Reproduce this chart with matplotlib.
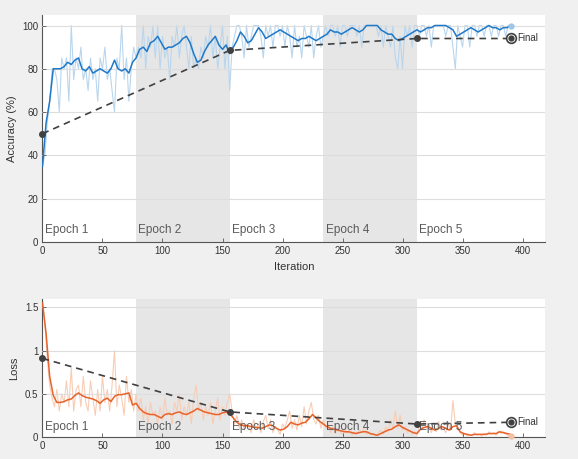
import numpy as np
import matplotlib
matplotlib.use("Agg")
import matplotlib.pyplot as plt

plt.rcParams['font.family'] = ['Liberation Sans', 'DejaVu Sans']

# iterations (raw every 2, smoothed every 3)
raw_it = np.arange(0, 391, 2)
smooth_it = np.arange(0, 391, 3)

acc_raw = [
    35, 40, 55, 65, 80, 80, 75, 60, 85, 80, 85, 65, 100, 75, 85, 80, 90, 75, 80, 70,
    85, 75, 80, 65, 85, 80, 90, 75, 80, 70, 60, 85, 80, 100, 75, 85, 65, 80, 90, 85,
    90, 85, 100, 80, 95, 90, 100, 85, 100, 80, 95, 85, 90, 75, 95, 90, 100, 85, 95, 100,
    90, 80, 95, 80, 85, 80, 90, 85, 95, 90, 100, 85, 95, 80, 90, 100, 80, 95, 70,
    90, 95, 100, 100, 95, 85, 100, 90, 95, 100, 100, 100, 95, 85, 100, 95, 100, 90, 100, 100,
    95, 100, 90, 100, 95, 85, 100, 90, 95, 85, 100, 95, 90, 100, 85, 95, 100, 90, 95,
    100, 95, 100, 100, 95, 100, 90, 100, 100, 95, 100, 100, 100, 95, 100, 90, 100, 100, 100, 100,
    100, 100, 95, 100, 90, 100, 95, 90, 100, 85, 80, 95, 80, 100, 95, 100, 90, 100, 100,
    95, 100, 100, 95, 100, 90, 100, 100, 100, 100, 100, 95, 100, 100, 90, 80, 100, 95, 90, 100,
    100, 90, 100, 100, 95, 100, 100, 95, 100, 100, 95, 100, 100, 95, 100, 100, 95, 100, 100,
]

acc_smooth = [
    35, 55, 65, 80, 80, 80, 81, 83, 82, 84,
    85, 80, 79, 81, 78, 79, 80, 79, 78, 80,
    84, 80, 79, 80, 78, 83, 85, 89, 90, 88,
    92, 93, 95, 92, 89, 90, 90, 91, 92, 94,
    95, 92, 87, 83, 84, 88, 91, 93, 95, 91,
    89, 91, 87, 90, 93, 97, 95, 92, 93, 96,
    99, 97, 94, 95, 96, 97, 98, 97, 96, 95,
    94, 93, 94, 94, 95, 94, 93, 94, 95, 96,
    98, 97, 97, 96, 97, 98, 99, 98, 97, 98,
    100, 100, 100, 100, 98, 97, 96, 96, 94, 93,
    94, 95, 96, 97, 98, 97, 98, 99, 99, 100,
    100, 100, 100, 99, 98, 95, 96, 97, 98, 99,
    98, 97, 98, 99, 100, 99, 99, 98, 99, 99,
    100,
]

loss_raw = [
    1.6, 1.3, 0.9, 0.6, 0.45, 0.35, 0.55, 0.3, 0.5, 0.4, 0.65, 0.35, 0.8, 0.3, 0.55, 0.6, 0.35, 0.7, 0.4, 0.3,
    0.65, 0.45, 0.25, 0.55, 0.3, 0.7, 0.4, 0.55, 0.3, 0.6, 1.0, 0.35, 0.6, 0.45, 0.25, 0.7, 0.4, 0.55, 0.3, 0.5,
    0.3, 0.45, 0.2, 0.35, 0.15, 0.4, 0.25, 0.3, 0.15, 0.35, 0.2, 0.45, 0.25, 0.3, 0.15, 0.4, 0.3, 0.5, 0.2, 0.35,
    0.25, 0.4, 0.15, 0.45, 0.6, 0.3, 0.4, 0.2, 0.35, 0.25, 0.4, 0.15, 0.3, 0.45, 0.2, 0.35, 0.25, 0.4, 0.5,
    0.3, 0.15, 0.25, 0.1, 0.2, 0.08, 0.15, 0.12, 0.05, 0.2, 0.1, 0.15, 0.05, 0.18, 0.25, 0.1, 0.2, 0.05, 0.12, 0.08,
    0.03, 0.15, 0.1, 0.2, 0.3, 0.1, 0.2, 0.08, 0.25, 0.12, 0.35, 0.15, 0.3, 0.4, 0.2, 0.15, 0.25, 0.1, 0.2,
    0.1, 0.15, 0.05, 0.12, 0.04, 0.1, 0.06, 0.03, 0.1, 0.04, 0.08, 0.02, 0.06, 0.03, 0.08, 0.05, 0.1, 0.03, 0.06, 0.02,
    0.04, 0.01, 0.05, 0.08, 0.03, 0.12, 0.06, 0.2, 0.1, 0.3, 0.1, 0.25, 0.08, 0.12, 0.05, 0.08, 0.03, 0.06, 0.02,
    0.15, 0.08, 0.2, 0.1, 0.15, 0.05, 0.12, 0.06, 0.18, 0.08, 0.1, 0.05, 0.15, 0.08, 0.42, 0.15, 0.1, 0.05, 0.02, 0.04,
    0.01, 0.03, 0.02, 0.05, 0.02, 0.03, 0.01, 0.04, 0.02, 0.06, 0.03, 0.05, 0.02, 0.07, 0.04, 0.06, 0.03, 0.02, 0.01,
]

loss_smooth = [
    1.55, 1.20, 0.70, 0.48, 0.40, 0.40, 0.41, 0.43, 0.44, 0.48,
    0.51, 0.48, 0.46, 0.45, 0.44, 0.42, 0.39, 0.43, 0.45, 0.41,
    0.47, 0.49, 0.49, 0.50, 0.51, 0.37, 0.39, 0.33, 0.29, 0.27,
    0.26, 0.26, 0.24, 0.22, 0.26, 0.27, 0.26, 0.28, 0.29, 0.27,
    0.26, 0.28, 0.30, 0.33, 0.31, 0.29, 0.28, 0.27, 0.26, 0.26,
    0.28, 0.29, 0.27, 0.22, 0.17, 0.14, 0.13, 0.13, 0.12, 0.11,
    0.11, 0.10, 0.12, 0.14, 0.13, 0.10, 0.08, 0.09, 0.12, 0.17,
    0.15, 0.14, 0.16, 0.17, 0.21, 0.26, 0.22, 0.18, 0.15, 0.12,
    0.10, 0.09, 0.08, 0.07, 0.06, 0.06, 0.05, 0.04, 0.05, 0.06,
    0.06, 0.04, 0.03, 0.02, 0.04, 0.06, 0.08, 0.09, 0.12, 0.14,
    0.11, 0.09, 0.07, 0.05, 0.04, 0.09, 0.11, 0.12, 0.10, 0.08,
    0.10, 0.12, 0.10, 0.08, 0.12, 0.13, 0.06, 0.04, 0.03, 0.02,
    0.03, 0.03, 0.03, 0.03, 0.04, 0.04, 0.04, 0.06, 0.05, 0.04,
    0.03,
]

# validation
val_it = [0, 156, 312]
val_acc = [50, 88.5, 94]
val_loss = [0.91, 0.29, 0.15]
final_it = 390
final_acc = 94
final_loss = 0.17

epoch_starts = [0, 78, 156, 234, 312]
epoch_names = ['Epoch 1', 'Epoch 2', 'Epoch 3', 'Epoch 4', 'Epoch 5']

fig = plt.figure(figsize=(5.78, 4.59), dpi=100)
fig.patch.set_facecolor('#f0f0f0')
ax1 = fig.add_axes([0.0735, 0.473, 0.870, 0.495])
ax2 = fig.add_axes([0.0735, 0.048, 0.870, 0.301])

def style(ax, ymax, yticks, ylabel, ytxt):
    ax.set_facecolor('white')
    ax.set_xlim(0, 419)
    ax.set_ylim(0, ymax)
    for i, s in enumerate(epoch_starts):
        if i % 2 == 1:
            ax.axvspan(s, s + 78, color='#e6e6e6', lw=0, zorder=0)
        ax.text(s + 2, ytxt, epoch_names[i], fontsize=8.5, color='#5a5a5a',
                va='center', ha='left', zorder=5)
    ax.set_yticks(yticks)
    ax.set_xticks([0, 50, 100, 150, 200, 250, 300, 350, 400])
    ax.grid(axis='y', color='#dddddd', lw=0.8, zorder=1)
    ax.set_axisbelow(False)
    for sp in ['top', 'right']:
        ax.spines[sp].set_visible(False)
    for sp in ['left', 'bottom']:
        ax.spines[sp].set_color('#555555')
        ax.spines[sp].set_linewidth(0.8)
    ax.tick_params(direction='in', length=3, width=0.6, labelsize=7,
                   colors='#555555', labelcolor='#333333', pad=3)
    ax.set_ylabel(ylabel, fontsize=8, color='#333333', labelpad=4)

style(ax1, 105, [0, 20, 40, 60, 80, 100], 'Accuracy (%)', 5.5)
style(ax2, 1.6, [0, 0.5, 1, 1.5], 'Loss', 0.12)
ax2.set_yticklabels(['0', '0.5', '1', '1.5'])
ax1.set_xlabel('Iteration', fontsize=8, color='#333333', labelpad=4)

# accuracy
ax1.plot(raw_it, acc_raw, color='#b9d6ee', lw=0.8, zorder=2)
ax1.plot(smooth_it, acc_smooth, color='#1f78c8', lw=1.1, zorder=3)
ax1.plot(raw_it[-1], acc_raw[-1], 'o', color='#9cc6ea', ms=3.5, zorder=3)
ax1.plot(val_it + [final_it], val_acc + [final_acc], '--', color='#404040',
         lw=1.2, dashes=(4, 3), zorder=4)
ax1.plot(val_it, val_acc, 'o', color='#404040', ms=4, zorder=6, clip_on=False)
ax1.plot(final_it, final_acc, 'o', mfc='white', mec='#404040', mew=1.2, ms=7, zorder=4)
ax1.plot(final_it, final_acc, 'o', color='#404040', ms=3.5, zorder=5)
ax1.text(final_it + 6, final_acc, 'Final', fontsize=7, va='center', color='#333333')

# loss
ax2.plot(raw_it, loss_raw, color='#f7cdb6', lw=0.8, zorder=2)
ax2.plot(smooth_it, loss_smooth, color='#e8622a', lw=1.1, zorder=3)
ax2.plot(raw_it[-1], loss_raw[-1], 'o', color='#f5bfa3', ms=3.5, zorder=3, clip_on=False)
ax2.plot(val_it + [final_it], val_loss + [final_loss], '--', color='#404040',
         lw=1.2, dashes=(4, 3), zorder=4)
ax2.plot(val_it, val_loss, 'o', color='#404040', ms=4, zorder=6, clip_on=False)
ax2.plot(final_it, final_loss, 'o', mfc='white', mec='#404040', mew=1.2, ms=7, zorder=4)
ax2.plot(final_it, final_loss, 'o', color='#404040', ms=3.5, zorder=5)
ax2.text(final_it + 6, final_loss, 'Final', fontsize=7, va='center', color='#333333')

fig.savefig('out.png', dpi=100, facecolor=fig.get_facecolor())
